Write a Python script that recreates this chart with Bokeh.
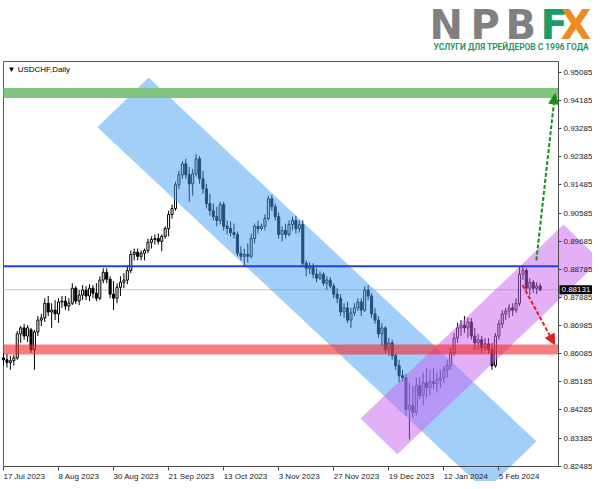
from bokeh.plotting import figure
from bokeh.models import (Range1d, FixedTicker, Label, Arrow, NormalHead, LinearAxis,
                          ColumnDataSource, PrintfTickFormatter, CustomJSTickFormatter)
from bokeh.embed import file_html
from bokeh.resources import INLINE

# ---------------- data (USDCHF daily, bar index 0 = 17 Jul 2023) ----------------
bar_open = [
    0.8595, 0.8589, 0.8580, 0.8586, 0.8595, 0.8672, 0.8691, 0.8665, 0.8685, 0.8621,
    0.8678, 0.8716, 0.8723, 0.8770, 0.8742, 0.8748, 0.8736, 0.8774, 0.8777, 0.8761,
    0.8770, 0.8818, 0.8777, 0.8796, 0.8812, 0.8793, 0.8818, 0.8802, 0.8786, 0.8844,
    0.8869, 0.8847, 0.8799, 0.8786, 0.8821, 0.8837, 0.8844, 0.8875, 0.8926, 0.8933,
    0.8920, 0.8930, 0.8939, 0.8965, 0.8974, 0.8977, 0.8968, 0.8984, 0.9009, 0.9054,
    0.9073, 0.9149, 0.9181, 0.9216, 0.9181, 0.9152, 0.9184, 0.9232, 0.9168, 0.9136,
    0.9089, 0.9066, 0.9047, 0.9035, 0.9086, 0.9016, 0.9009, 0.8996, 0.8990, 0.8930,
    0.8920, 0.8926, 0.8920, 0.8977, 0.9016, 0.9009, 0.9016, 0.9041, 0.9104, 0.9079,
    0.9047, 0.8990, 0.9003, 0.8990, 0.9022, 0.9035, 0.9009, 0.9022, 0.8898, 0.8882,
    0.8888, 0.8863, 0.8850, 0.8863, 0.8834, 0.8844, 0.8825, 0.8799, 0.8786, 0.8742,
    0.8755, 0.8716, 0.8739, 0.8755, 0.8774, 0.8748, 0.8812, 0.8793, 0.8736, 0.8716,
    0.8672, 0.8691, 0.8621, 0.8643, 0.8602, 0.8570, 0.8538, 0.8532, 0.8430, 0.8443,
    0.8421, 0.8506, 0.8475, 0.8516, 0.8500, 0.8519, 0.8513, 0.8525, 0.8532, 0.8557,
    0.8570, 0.8611, 0.8659, 0.8691, 0.8700, 0.8691, 0.8710, 0.8665, 0.8643, 0.8653,
    0.8627, 0.8640, 0.8621, 0.8570, 0.8665, 0.8704, 0.8736, 0.8745, 0.8755, 0.8748,
    0.8770, 0.8863, 0.8875, 0.8818, 0.8837, 0.8818, 0.8825,
]
bar_high = [
    0.8611, 0.8608, 0.8602, 0.8605, 0.8681, 0.8697, 0.8704, 0.8700, 0.8691, 0.8685,
    0.8729, 0.8736, 0.8786, 0.8793, 0.8770, 0.8780, 0.8786, 0.8793, 0.8793, 0.8786,
    0.8834, 0.8825, 0.8812, 0.8828, 0.8825, 0.8831, 0.8828, 0.8834, 0.8856, 0.8882,
    0.8882, 0.8856, 0.8841, 0.8834, 0.8856, 0.8866, 0.8888, 0.8939, 0.8945, 0.8945,
    0.8939, 0.8945, 0.8977, 0.8984, 0.8990, 0.8993, 0.8990, 0.9016, 0.9066, 0.9086,
    0.9159, 0.9194, 0.9225, 0.9232, 0.9206, 0.9200, 0.9248, 0.9241, 0.9194, 0.9152,
    0.9120, 0.9089, 0.9079, 0.9095, 0.9095, 0.9035, 0.9032, 0.9025, 0.9000, 0.8952,
    0.8945, 0.8961, 0.8993, 0.9025, 0.9035, 0.9025, 0.9054, 0.9114, 0.9117, 0.9089,
    0.9060, 0.9016, 0.9025, 0.9035, 0.9047, 0.9050, 0.9035, 0.9035, 0.8907, 0.8901,
    0.8898, 0.8882, 0.8872, 0.8869, 0.8856, 0.8853, 0.8834, 0.8818, 0.8799, 0.8770,
    0.8774, 0.8755, 0.8770, 0.8786, 0.8786, 0.8825, 0.8828, 0.8802, 0.8755, 0.8729,
    0.8707, 0.8697, 0.8659, 0.8653, 0.8611, 0.8589, 0.8557, 0.8544, 0.8516, 0.8506,
    0.8532, 0.8532, 0.8548, 0.8564, 0.8557, 0.8564, 0.8548, 0.8557, 0.8570, 0.8589,
    0.8627, 0.8675, 0.8707, 0.8716, 0.8729, 0.8723, 0.8723, 0.8691, 0.8672, 0.8665,
    0.8659, 0.8659, 0.8643, 0.8675, 0.8716, 0.8748, 0.8755, 0.8767, 0.8770, 0.8786,
    0.8888, 0.8888, 0.8882, 0.8850, 0.8844, 0.8837, 0.8834,
]
bar_low = [
    0.8570, 0.8564, 0.8557, 0.8570, 0.8589, 0.8643, 0.8653, 0.8646, 0.8611, 0.8557,
    0.8665, 0.8697, 0.8710, 0.8729, 0.8691, 0.8716, 0.8707, 0.8755, 0.8748, 0.8745,
    0.8764, 0.8767, 0.8764, 0.8780, 0.8780, 0.8777, 0.8786, 0.8777, 0.8780, 0.8834,
    0.8834, 0.8786, 0.8748, 0.8770, 0.8793, 0.8818, 0.8831, 0.8866, 0.8907, 0.8907,
    0.8907, 0.8907, 0.8930, 0.8945, 0.8958, 0.8958, 0.8936, 0.8977, 0.8984, 0.9041,
    0.9066, 0.9136, 0.9168, 0.9168, 0.9095, 0.9114, 0.9175, 0.9152, 0.9120, 0.9073,
    0.9050, 0.9035, 0.9016, 0.9022, 0.9003, 0.8990, 0.8984, 0.8977, 0.8920, 0.8907,
    0.8888, 0.8901, 0.8914, 0.8961, 0.8993, 0.9003, 0.9003, 0.9035, 0.9066, 0.9035,
    0.8977, 0.8968, 0.8977, 0.8984, 0.9003, 0.8993, 0.8996, 0.8888, 0.8856, 0.8863,
    0.8850, 0.8837, 0.8844, 0.8825, 0.8812, 0.8818, 0.8786, 0.8770, 0.8729, 0.8723,
    0.8707, 0.8691, 0.8729, 0.8745, 0.8729, 0.8742, 0.8780, 0.8723, 0.8704, 0.8659,
    0.8634, 0.8608, 0.8602, 0.8589, 0.8557, 0.8516, 0.8519, 0.8411, 0.8334, 0.8404,
    0.8411, 0.8462, 0.8443, 0.8468, 0.8475, 0.8494, 0.8484, 0.8500, 0.8516, 0.8532,
    0.8557, 0.8602, 0.8643, 0.8665, 0.8675, 0.8659, 0.8653, 0.8621, 0.8621, 0.8611,
    0.8618, 0.8608, 0.8557, 0.8564, 0.8653, 0.8691, 0.8716, 0.8723, 0.8729, 0.8739,
    0.8761, 0.8844, 0.8799, 0.8796, 0.8802, 0.8799, 0.8809,
]
bar_close = [
    0.8589, 0.8580, 0.8586, 0.8595, 0.8672, 0.8691, 0.8665, 0.8691, 0.8621, 0.8678,
    0.8716, 0.8723, 0.8770, 0.8742, 0.8748, 0.8736, 0.8774, 0.8777, 0.8761, 0.8770,
    0.8818, 0.8777, 0.8796, 0.8812, 0.8793, 0.8818, 0.8802, 0.8786, 0.8844, 0.8869,
    0.8847, 0.8799, 0.8786, 0.8821, 0.8837, 0.8844, 0.8875, 0.8926, 0.8933, 0.8920,
    0.8930, 0.8939, 0.8965, 0.8974, 0.8977, 0.8968, 0.8984, 0.9009, 0.9054, 0.9073,
    0.9149, 0.9181, 0.9216, 0.9181, 0.9152, 0.9184, 0.9232, 0.9168, 0.9136, 0.9089,
    0.9066, 0.9047, 0.9035, 0.9086, 0.9016, 0.9009, 0.8996, 0.8990, 0.8930, 0.8920,
    0.8926, 0.8920, 0.8977, 0.9016, 0.9009, 0.9016, 0.9041, 0.9104, 0.9079, 0.9047,
    0.8990, 0.9003, 0.8990, 0.9022, 0.9035, 0.9009, 0.9022, 0.8898, 0.8882, 0.8888,
    0.8863, 0.8850, 0.8863, 0.8834, 0.8844, 0.8825, 0.8799, 0.8786, 0.8742, 0.8755,
    0.8716, 0.8739, 0.8755, 0.8774, 0.8748, 0.8812, 0.8793, 0.8736, 0.8716, 0.8672,
    0.8691, 0.8621, 0.8643, 0.8602, 0.8570, 0.8538, 0.8532, 0.8430, 0.8443, 0.8421,
    0.8506, 0.8475, 0.8516, 0.8500, 0.8519, 0.8513, 0.8525, 0.8532, 0.8557, 0.8570,
    0.8611, 0.8659, 0.8691, 0.8700, 0.8691, 0.8710, 0.8665, 0.8643, 0.8653, 0.8627,
    0.8640, 0.8621, 0.8570, 0.8665, 0.8704, 0.8736, 0.8745, 0.8755, 0.8748, 0.8770,
    0.8863, 0.8875, 0.8818, 0.8837, 0.8818, 0.8825, 0.88131,
]

tick_idx = [0, 16, 32, 48, 64, 80, 96, 112, 128, 144]
tick_labels = ["17 Jul 2023", "8 Aug 2023", "30 Aug 2023", "21 Sep 2023", "13 Oct 2023",
               "3 Nov 2023", "27 Nov 2023", "19 Dec 2023", "12 Jan 2024", "5 Feb 2024"]
price_ticks = [0.82485, 0.83385, 0.84285, 0.85185, 0.86085, 0.86985, 0.87885, 0.88785,
               0.89685, 0.90585, 0.91485, 0.92385, 0.93285, 0.94185, 0.95085]

symbol_title = "USDCHF,Daily"
last_price = 0.88131
resistance_level = 0.8888     # blue line
support_level = 0.8622        # red band
target_level = 0.9443         # green band

# channels drawn on the chart (bar index, price)
down_channel_x = [27.3, 42.2, 154.9, 140.1]
down_channel_y = [0.93334, 0.94925, 0.83280, 0.81690]
up_channel_x = [103.8, 114.5, 173.5, 162.8]
up_channel_y = [0.84012, 0.82867, 0.89071, 0.90216]

# forecast arrows (start, end)
up_arrow_x = [154.9, 160.3]
up_arrow_y = [0.8907, 0.9440]
down_arrow_x = [150.9, 160.2]
down_arrow_y = [0.8828, 0.8638]

logo_letters = ["N", "P", "B", "F", "X"]
logo_colors = ["#808080", "#808080", "#808080", "#1a9c6c", "#f08a1e"]
logo_sub = "УСЛУГИ ДЛЯ ТРЕЙДЕРОВ С 1996 ГОДА"

# ---------------- layout ----------------
W, H = 592, 481
WIN_L, WIN_R, WIN_T, WIN_B = 3, 558, 61, 466     # chart window inside the canvas (px)
WX0, WX1 = 0.0, 161.34                            # bar range of the chart window
WY0, WY1 = 0.82475, 0.95435                       # price range of the chart window
kx = (WIN_R - WIN_L) / (WX1 - WX0)                # px per bar
ky = (WIN_B - WIN_T) / (WY1 - WY0)                # px per price unit
XS, XE = WX0 - WIN_L / kx, WX1 + (W - WIN_R) / kx
YS, YE = WY0 - (H - WIN_B) / ky, WY1 + WIN_T / ky

def cx(px):   # canvas px -> bar coordinate
    return XS + px / kx
def cy(py):   # canvas px -> price coordinate
    return YE - py / ky

p = figure(width=W, height=H, x_range=Range1d(XS, XE), y_range=Range1d(YS, YE),
           x_axis_location=None, y_axis_location=None,
           toolbar_location=None, output_backend="svg",
           min_border_left=0, min_border_right=0, min_border_top=0, min_border_bottom=0,
           background_fill_color="white", border_fill_color="white")
p.xgrid.visible = False
p.ygrid.visible = False
p.outline_line_color = None

FONT = "Liberation Sans"
AX = "#4a4a4a"

# axes (library axes, pinned to the chart window edges)
xaxis = LinearAxis(fixed_location=WY0, bounds=(WX0, WX1), ticker=FixedTicker(ticks=tick_idx),
                   formatter=CustomJSTickFormatter(code="return ''"),
                   major_tick_out=4, major_tick_in=0, minor_tick_line_color=None,
                   axis_line_color=AX, major_tick_line_color=AX, major_label_standoff=0)
p.add_layout(xaxis, "below")
yaxis = LinearAxis(fixed_location=WX1, bounds=(WY0, WY1), ticker=FixedTicker(ticks=price_ticks),
                   formatter=PrintfTickFormatter(format="%.5f"),
                   major_tick_out=3, major_tick_in=0, minor_tick_line_color=None,
                   axis_line_color=AX, major_tick_line_color=AX, major_label_standoff=2,
                   major_label_text_font=FONT, major_label_text_font_size="8px",
                   major_label_text_color="#222222")
p.add_layout(yaxis, "right")

# window border
p.quad(left=WX0, right=WX1, bottom=WY0, top=WY1, fill_color=None, line_color="#5a5a5a",
       line_width=1)

# current price line (behind the candles)
p.segment(x0=WX0, x1=WX1, y0=last_price, y1=last_price, line_color="#c4c4c4", line_width=1)

# candles
xs = list(range(len(bar_close)))
tops = [max(o, c) for o, c in zip(bar_open, bar_close)]
bots = [min(o, c) for o, c in zip(bar_open, bar_close)]
fills = ["white" if c >= o else "black" for o, c in zip(bar_open, bar_close)]
src = ColumnDataSource(dict(x=xs, high=bar_high, low=bar_low, top=tops, bottom=bots, fill=fills))
p.segment(x0="x", y0="low", x1="x", y1="high", source=src, line_color="black", line_width=1)
p.vbar(x="x", top="top", bottom="bottom", width=0.6, source=src,
       fill_color="fill", line_color="black", line_width=1)

# channels
p.patch(down_channel_x, down_channel_y, fill_color="#46a0f5", fill_alpha=0.5, line_alpha=0)
p.patch(up_channel_x, up_channel_y, fill_color="#c860f0", fill_alpha=0.5, line_alpha=0)

# horizontal levels (across the chart window)
p.segment(x0=WX0, x1=WX1, y0=support_level, y1=support_level, line_color="#f52626",
          line_alpha=0.6, line_width=10)
p.segment(x0=WX0, x1=WX1, y0=resistance_level, y1=resistance_level, line_color="#2040d8",
          line_width=2)
p.segment(x0=WX0, x1=WX1, y0=target_level, y1=target_level, line_color="#80c480",
          line_width=10)

# arrows
g = "#1a8c1a"
p.add_layout(Arrow(end=NormalHead(size=10, fill_color=g, line_color=g),
                   x_start=up_arrow_x[0], y_start=up_arrow_y[0],
                   x_end=up_arrow_x[1], y_end=up_arrow_y[1],
                   line_color=g, line_width=2, line_dash="4 2"))
r = "#e81e1e"
p.add_layout(Arrow(end=NormalHead(size=10, fill_color=r, line_color=r),
                   x_start=down_arrow_x[0], y_start=down_arrow_y[0],
                   x_end=down_arrow_x[1], y_end=down_arrow_y[1],
                   line_color=r, line_width=2, line_dash="4 2"))

# title in the corner
p.add_layout(Label(x=WX0, y=WY1, x_offset=4, y_offset=-3, text="\u25BC " + symbol_title,
                   text_font=FONT, text_font_size="8px", text_color="black",
                   text_baseline="top", text_align="left"))

# x tick labels, left aligned at their tick as in the trading terminal
for t, lab in zip(tick_idx, tick_labels):
    p.add_layout(Label(x=t, y=WY0, y_offset=-5, text=lab,
                       text_font=FONT, text_font_size="8px", text_color="#222222",
                       text_baseline="top", text_align="left"))

# current price tag on the price scale
p.add_layout(Label(x=WX1, x_offset=1, y=last_price, text="%.5f" % last_price,
                   text_font=FONT, text_font_size="8px", text_color="white",
                   background_fill_color="black", padding=2,
                   text_baseline="middle", text_align="left"))

# logo (letter by letter)
for txt, px, col in zip(logo_letters, [429, 470, 505, 540, 560], logo_colors):
    p.add_layout(Label(x=cx(px), y=cy(24.5), text=txt,
                       text_font="DejaVu Sans", text_font_style="bold", text_font_size="40px",
                       text_color=col, text_baseline="alphabetic", text_align="left"))
p.add_layout(Label(x=cx(433), y=cy(46.5), text=logo_sub,
                   text_font="Roboto", text_font_style="bold", text_font_size="8.4px",
                   text_color="#1a9a6c", text_baseline="alphabetic", text_align="left"))

open("out.html", "w").write(file_html(p, INLINE))
